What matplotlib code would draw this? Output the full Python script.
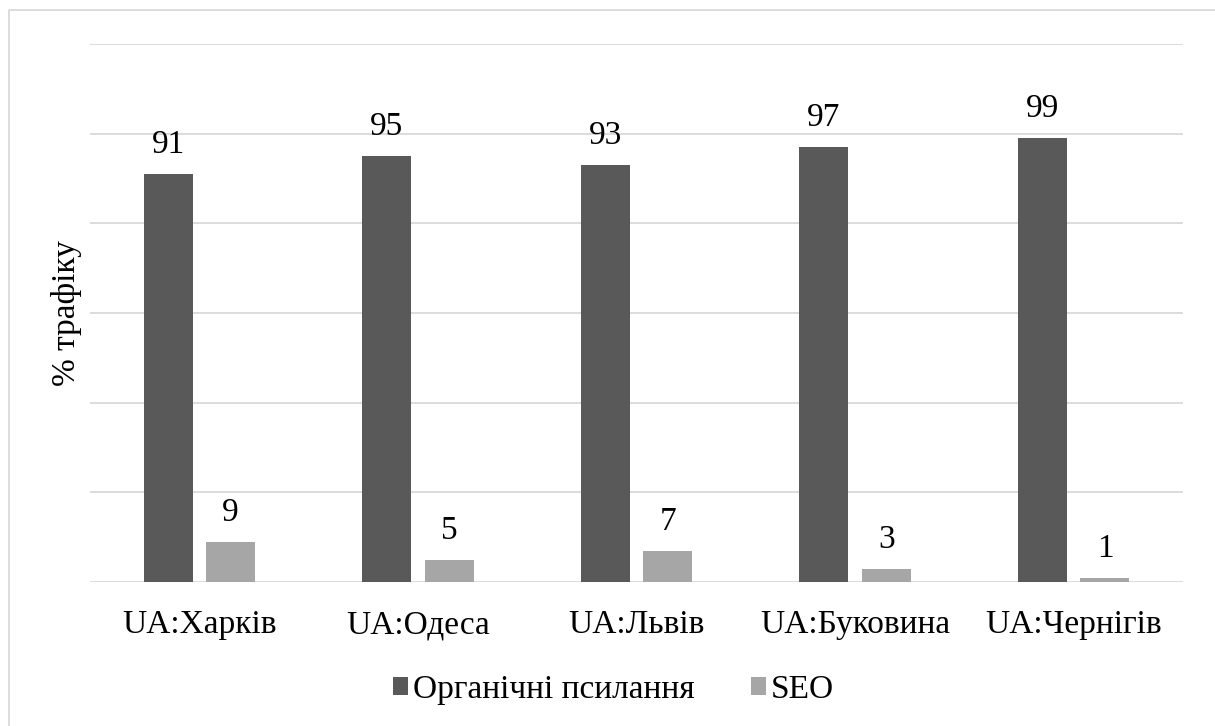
import numpy as np
import matplotlib
matplotlib.use("Agg")
import matplotlib.pyplot as plt
from matplotlib.lines import Line2D

# data
regions = ["UA:Харків", "UA:Одеса", "UA:Львів", "UA:Буковина", "UA:Чернігів"]
organic = [91, 95, 93, 97, 99]
seo = [9, 5, 7, 3, 1]
series_names = ["Органічні псилання", "SEO"]

plt.rcParams['font.family'] = ['Liberation Serif', 'DejaVu Serif']

fig = plt.figure(figsize=(12.15, 7.26), dpi=100)
W, H = 1215, 726

# outer frame (only top and left edges are inside the picture)
fig.add_artist(Line2D([9 / W, 9 / W, 1], [0, 1 - 10 / H, 1 - 10 / H],
                      transform=fig.transFigure, color='#d9d9d9', linewidth=1.3))

ax = fig.add_axes([90 / W, 1 - 582 / H, 1093 / W, 538 / H])
ax.patch.set_alpha(0)

x = np.arange(len(regions))
w = 0.224
b1 = ax.bar(x - 0.143, organic, w, color='#595959', label=series_names[0], zorder=3)
b2 = ax.bar(x + 0.143, seo, w, color='#a6a6a6', label=series_names[1], zorder=3)
for bars in (b1, b2):
    ax.bar_label(bars, padding=10, fontsize=24)

ax.set_ylim(0, 120)
ax.set_xlim(-0.5, len(regions) - 0.5)
ax.set_yticks(np.arange(0, 121, 20))
ax.set_yticklabels([])
ax.grid(axis='y', color='#d9d9d9', linewidth=1.3, zorder=0)
ax.set_xticks(x)
ax.set_xticklabels(regions, fontsize=24)
ax.tick_params(length=0)
ax.tick_params(axis='x', pad=20)
for sp in ax.spines.values():
    sp.set_visible(False)

ax.set_ylabel("% трафіку", fontsize=24)
ax.yaxis.set_label_coords(-8 / 1093, 0.5)

fig.legend(loc='center', bbox_to_anchor=(0.505, 1 - 690 / H), ncol=2, frameon=False,
           fontsize=24, handlelength=0.45, handleheight=0.45, handletextpad=0.15,
           columnspacing=1.7)

fig.savefig("out.png", dpi=100)
